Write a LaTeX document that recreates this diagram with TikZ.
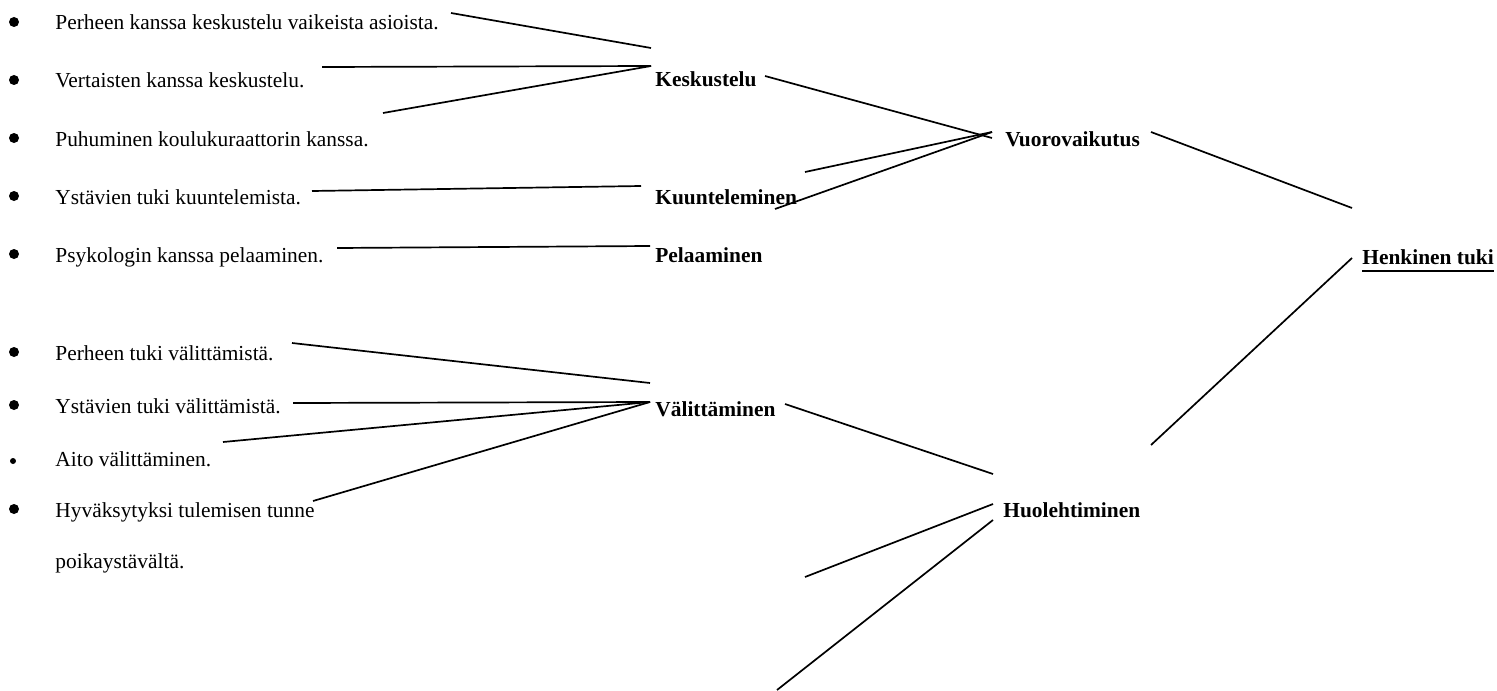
\documentclass[tikz,border=0pt]{standalone}
\usepackage{fontspec}
\setmainfont{Liberation Serif}
\tikzset{
  item/.style={anchor=base west, inner sep=0pt, font=\fontsize{10.7}{12}\selectfont},
  topic/.style={anchor=base west, inner sep=0pt, font=\fontsize{10.7}{12}\selectfont\bfseries},
  dot/.style={circle, fill, inner sep=0pt, minimum size=5pt},
  link/.style={line width=0.85pt},
}
\begin{document}
\begin{tikzpicture}[x=0.5pt, y=-0.5pt]

  \useasboundingbox (0,0) rectangle (1497,690);

  %% items
  \node[item] (perhe)       at (55,30)  {Perheen kanssa keskustelu vaikeista asioista.};
  \node[item] (vertaiset)   at (55,88)  {Vertaisten kanssa keskustelu.};
  \node[item] (kuraattori)  at (55,146) {Puhuminen koulukuraattorin kanssa.};
  \node[item] (ystavat)     at (55,204) {Ystävien tuki kuuntelemista.};
  \node[item] (psykologi)   at (55,262) {Psykologin kanssa pelaaminen.};
  \node[item] (perhetuki)   at (55,360) {Perheen tuki välittämistä.};
  \node[item] (ystavatuki)  at (55,413) {Ystävien tuki välittämistä.};
  \node[item] (aito)        at (55,466) {Aito välittäminen.};
  \node[item] (hyvaksynta)  at (55,517) {Hyväksytyksi tulemisen tunne};
  \node[item] (poikaystava) at (55,568) {poikaystävältä.};

  %% bullets
  \foreach \n/\yy in {b1/22, b2/80, b3/138, b4/196, b5/254, b6/352, b7/405, b9/509}
    \node[dot] (\n) at (14,\yy) {};
  \node[dot, minimum size=3pt] (b8) at (13,461) {};

  %% topics
  \node[topic] (keskustelu) at (655,87)   {Keskustelu};
  \node[topic] (kuuntelu)   at (655,204)  {Kuunteleminen};
  \node[topic] (pelaaminen) at (655,262)  {Pelaaminen};
  \node[topic] (valitt)     at (655,416)  {Välittäminen};
  \node[topic] (vuoro)      at (1005,146) {Vuorovaikutus};
  \node[topic] (huoleht)    at (1003,517) {Huolehtiminen};
  \node[topic] (henk)       at (1362,264) {Henkinen tuki};
  \draw[line width=0.7pt] ([yshift=-3.5pt]henk.base west) -- ([yshift=-3.5pt]henk.base east);

  %% line ends
  \coordinate (perhe-o)   at (451,13);
  \coordinate (kesk-i1)   at (651,48);
  \coordinate (vert-o)    at (322,67);
  \coordinate (kesk-i2)   at (651,66);
  \coordinate (kur-o)     at (383,113);
  \coordinate (yst-o)     at (312,191);
  \coordinate (kuun-i)    at (641,186);
  \coordinate (psyk-o)    at (337,248);
  \coordinate (pela-i)    at (650,246);
  \coordinate (kesk-o)    at (765,76);
  \coordinate (vuoro-i1)  at (992,138);
  \coordinate (vuoro-i2)  at (992,132);
  \coordinate (free1)     at (805,172);
  \coordinate (kuun-o)    at (775,209);
  \coordinate (vuoro-o)   at (1151,132);
  \coordinate (henk-i1)   at (1352,208);
  \coordinate (huol-o)    at (1151,445);
  \coordinate (henk-i2)   at (1352,258);
  \coordinate (ptuki-o)   at (292,343);
  \coordinate (val-i1)    at (650,383);
  \coordinate (ytuki-o)   at (293,403);
  \coordinate (val-i2)    at (650,402);
  \coordinate (aito-o)    at (223,442);
  \coordinate (hyv-o)     at (313,501);
  \coordinate (val-o)     at (785,404);
  \coordinate (huol-i1)   at (993,474);
  \coordinate (free2)     at (805,577);
  \coordinate (huol-i2)   at (993,504);
  \coordinate (free3)     at (777,690);
  \coordinate (huol-i3)   at (993,520);

  %% Keskustelu
  \draw[link] (perhe-o) -- (kesk-i1);
  \draw[link] (vert-o) -- (kesk-i2);
  \draw[link] (kur-o) -- (kesk-i2);
  %% Kuunteleminen, Pelaaminen
  \draw[link] (yst-o) -- (kuun-i);
  \draw[link] (psyk-o) -- (pela-i);
  %% Vuorovaikutus
  \draw[link] (kesk-o) -- (vuoro-i1);
  \draw[link] (free1) -- (vuoro-i2);
  \draw[link] (kuun-o) -- (vuoro-i2);
  %% Henkinen tuki
  \draw[link] (vuoro-o) -- (henk-i1);
  \draw[link] (huol-o) -- (henk-i2);
  %% Valittaminen
  \draw[link] (ptuki-o) -- (val-i1);
  \draw[link] (ytuki-o) -- (val-i2);
  \draw[link] (aito-o) -- (val-i2);
  \draw[link] (hyv-o) -- (val-i2);
  %% Huolehtiminen
  \draw[link] (val-o) -- (huol-i1);
  \draw[link] (free2) -- (huol-i2);
  \draw[link] (free3) -- (huol-i3);

\end{tikzpicture}
\end{document}
